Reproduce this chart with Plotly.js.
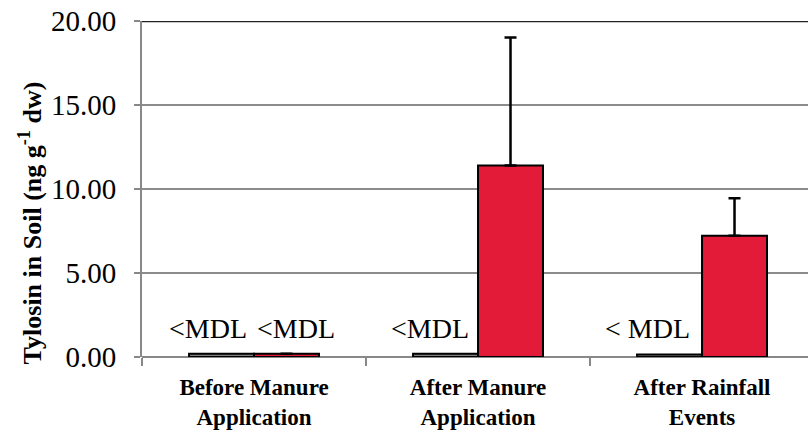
<!DOCTYPE html>
<html>
<head>
<meta charset="utf-8">
<script src="https://cdn.plot.ly/plotly-3.0.1.min.js"></script>
<style>html,body{margin:0;padding:0;background:#fff;}#chart{width:808px;height:436px;}</style>
</head>
<body>
<div id="chart"></div>
<script>
// Data
const categories = ["Before Manure<br>Application", "After Manure<br>Application", "After Rainfall<br>Events"];
const seriesA = [0.20, 0.20, 0.15];
const seriesB = [0.20, 11.40, 7.22];
const errorB = [0, 7.62, 2.23];
const mdlLabels = ["<MDL", "<MDL", "<MDL", "< MDL"];
const mdlCategories = [categories[0], categories[0], categories[1], categories[2]];
const mdlShift = [-46, 42, -48, -55];
const mdlY = [1.67, 1.67, 1.67, 1.67];
const yTicks = [0, 5, 10, 15, 20];

const serif = "Liberation Serif, Times New Roman, serif";

const traces = [
  {
    type: "bar", name: "Series A", x: categories, y: seriesA,
    marker: {color: "#808080", line: {color: "#000", width: 2}},
    hoverinfo: "y"
  },
  {
    type: "bar", name: "Series B", x: categories, y: seriesB,
    marker: {color: "#E41A39", line: {color: "#000", width: 2}},
    error_y: {type: "data", symmetric: false, array: errorB, arrayminus: errorB.map(() => 0),
      color: "#000", thickness: 2.5, width: 6},
    hoverinfo: "y"
  }
];

const annotations = mdlLabels.map((t, i) => ({
  text: t, x: mdlCategories[i], y: mdlY[i], xref: "x", yref: "y",
  xshift: mdlShift[i], showarrow: false, yanchor: "middle",
  font: {family: serif, size: 28, color: "#000"}
}));
annotations.push({
  text: "<b>Tylosin in Soil (ng g<sup>-1</sup> dw)</b>",
  xref: "paper", yref: "paper", x: -0.167, y: 0.40, textangle: -90,
  showarrow: false, xanchor: "center", yanchor: "middle",
  font: {family: serif, size: 26, color: "#000"}
});

const layout = {
  width: 808, height: 436,
  margin: {l: 142, r: 0, t: 21, b: 79, pad: 0},
  paper_bgcolor: "#fff", plot_bgcolor: "#fff",
  showlegend: false,
  barmode: "group", bargap: 0.42, bargroupgap: 0,
  xaxis: {
    type: "category", range: [-0.5, 2.473],
    showline: false, showgrid: false, zeroline: false,
    ticks: "outside", tickson: "boundaries", ticklen: 8, tickwidth: 2, tickcolor: "#888",
    ticklabelstandoff: 14,
    tickfont: {family: serif, size: 23, color: "#000", weight: "bold"},
    categoryorder: "array", categoryarray: categories
  },
  yaxis: {
    range: [0, 20], tickvals: yTicks, tickformat: ".2f",
    showline: true, linecolor: "#888", linewidth: 2,
    showgrid: true, gridcolor: "#8c8c8c", gridwidth: 1.5,
    zeroline: true, zerolinecolor: "#888", zerolinewidth: 2,
    ticks: "outside", ticklen: 6, tickwidth: 2, tickcolor: "#888",
    ticklabelstandoff: 12,
    tickfont: {family: serif, size: 29, color: "#000"}
  },
  shapes: [
    {type: "line", xref: "paper", yref: "y", x0: 0, x1: 1, y0: 20, y1: 20,
     line: {color: "#222", width: 2.5}}
  ],
  annotations: annotations
};

Plotly.newPlot("chart", traces, layout, {displayModeBar: false, staticPlot: true});
</script>
</body>
</html>
